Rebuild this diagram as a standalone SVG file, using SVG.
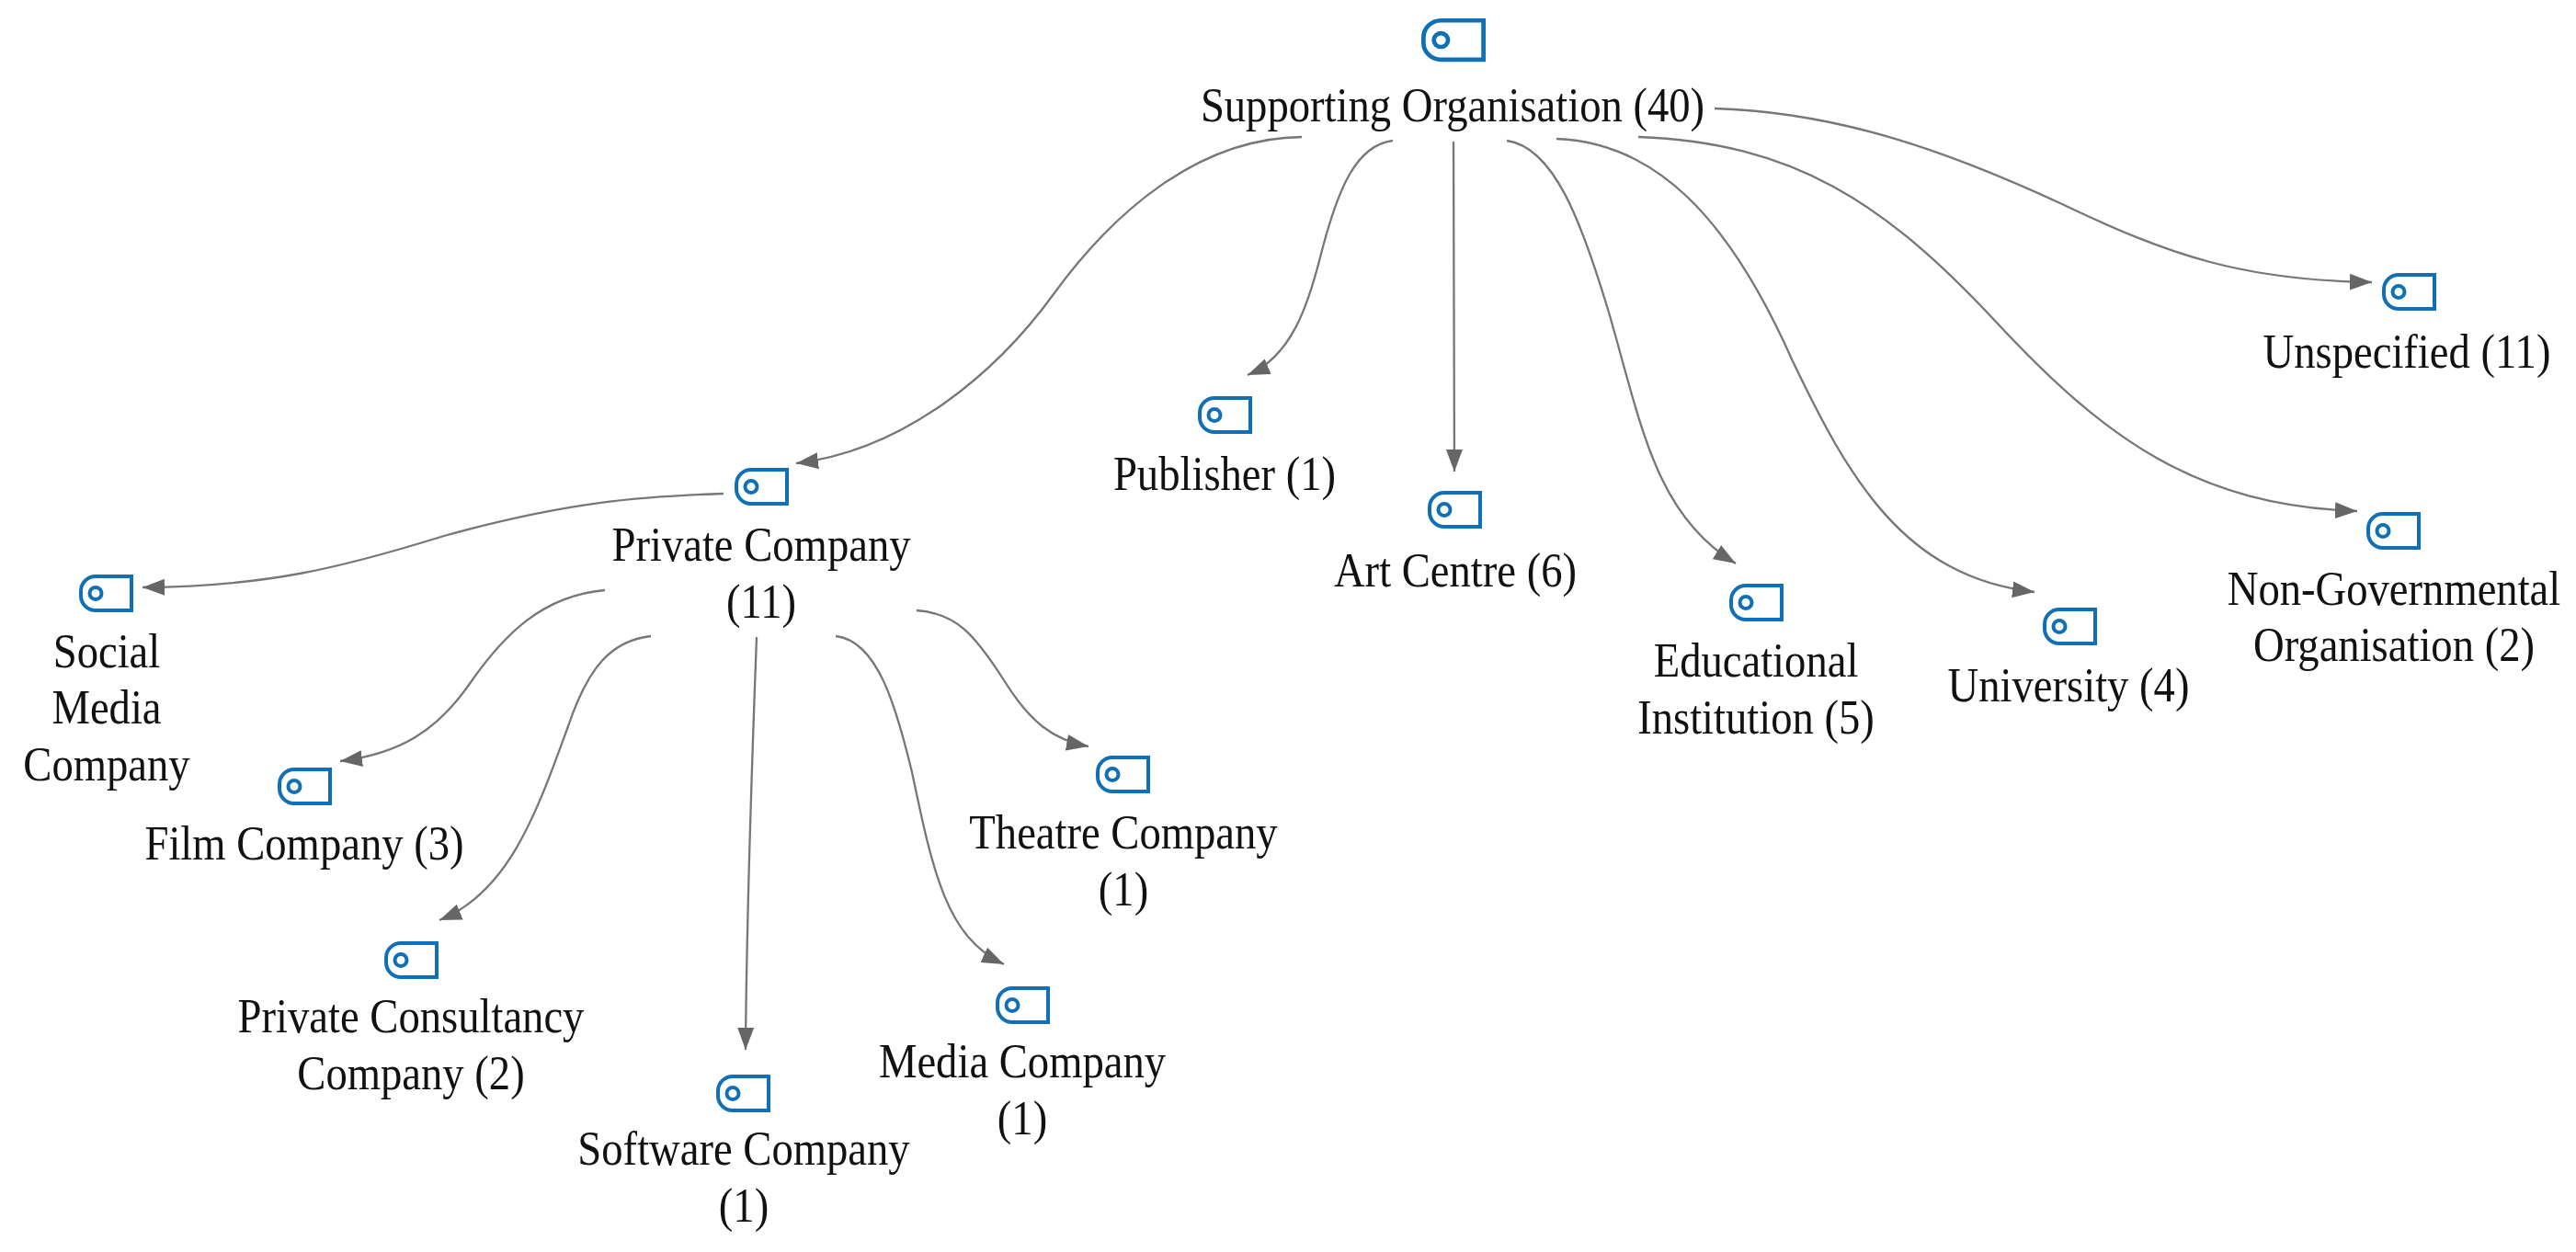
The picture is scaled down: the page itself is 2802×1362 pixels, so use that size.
<svg xmlns="http://www.w3.org/2000/svg" width="2802" height="1362" viewBox="0 0 2802 1362">
<style>
.t{font-family:"Liberation Serif","Times New Roman",serif;font-size:53px;fill:#111;text-anchor:middle}
.c{fill:none;stroke:#777;stroke-width:2.3;marker-end:url(#a)}
.i{fill:none;stroke:#0f70b7;stroke-width:4}
</style>
<defs>
<marker id="a" markerUnits="userSpaceOnUse" markerWidth="26" markerHeight="20" refX="24" refY="10" orient="auto"><path d="M0,1 L24,10 L0,19 Z" fill="#666"/></marker>
<g id="tag"><path class="i" d="M57,2 H18 A16,16 0 0 0 2,18 V23 A16,16 0 0 0 18,39 H57 Z"/><circle class="i" cx="18" cy="20.500" r="6.500"/></g>
</defs>
<rect width="2802" height="1362" fill="#fff"/>
<g id="connectors">
<path class="c" d="M1416,149 C1300,150 1207,236 1146,320 C1085,404 985,490 866,504"/>
<path class="c" d="M1515,153 C1475,158 1455,205 1436,280 C1423,331 1405,388 1357,408"/>
<path class="c" d="M1581,154 L1582,513"/>
<path class="c" d="M1639,153 C1690,160 1720,240 1750,340 C1785,460 1800,560 1888,613"/>
<path class="c" d="M1693,151 C1800,155 1880,235 1950,393 C2010,518 2070,628 2213,644"/>
<path class="c" d="M1782,149 C1950,155 2050,220 2171,350 C2290,478 2390,550 2564,556"/>
<path class="c" d="M1865,118 C2000,122 2120,165 2243,222 C2360,278 2440,305 2580,307"/>
<path class="c" d="M787,537 C700,540 620,545 483,583 C370,618 290,638 155,639"/>
<path class="c" d="M658,642 C590,648 548,690 510,745 C475,795 435,820 370,828"/>
<path class="c" d="M708,692 C665,697 640,725 618,790 C585,880 555,970 478,1001"/>
<path class="c" d="M823,693 C819,800 812,1000 811,1142"/>
<path class="c" d="M909,692 C955,697 975,770 992,840 C1015,950 1030,1020 1092,1049"/>
<path class="c" d="M997,664 C1040,667 1060,690 1092,740 C1120,785 1145,805 1184,812"/>
</g>
<g id="n-supporting"><use href="#tag" transform="translate(1546,20) scale(1.186,1.15)"/><text class="t" transform="translate(1580,132) scale(.88,1)">Supporting Organisation (40)</text></g>
<g id="n-private"><use href="#tag" transform="translate(799,509)"/><text class="t" transform="translate(828,610) scale(.88,1)">Private Company</text><text class="t" transform="translate(828,672) scale(.88,1)">(11)</text></g>
<g id="n-publisher"><use href="#tag" transform="translate(1303,431)"/><text class="t" transform="translate(1332,533) scale(.88,1)">Publisher (1)</text></g>
<g id="n-art"><use href="#tag" transform="translate(1553,534)"/><text class="t" transform="translate(1583,638) scale(.88,1)">Art Centre (6)</text></g>
<g id="n-edu"><use href="#tag" transform="translate(1881,635)"/><text class="t" transform="translate(1910,736) scale(.88,1)">Educational</text><text class="t" transform="translate(1910,798) scale(.88,1)">Institution (5)</text></g>
<g id="n-univ"><use href="#tag" transform="translate(2222,661)"/><text class="t" transform="translate(2250,763) scale(.88,1)">University (4)</text></g>
<g id="n-ngo"><use href="#tag" transform="translate(2574,557)"/><text class="t" transform="translate(2604,658) scale(.88,1)">Non-Governmental</text><text class="t" transform="translate(2604,719) scale(.88,1)">Organisation (2)</text></g>
<g id="n-unspecified"><use href="#tag" transform="translate(2591,297)"/><text class="t" transform="translate(2618,400) scale(.88,1)">Unspecified (11)</text></g>
<g id="n-social"><use href="#tag" transform="translate(86,625)"/><text class="t" transform="translate(116,726) scale(.88,1)">Social</text><text class="t" transform="translate(116,787) scale(.88,1)">Media</text><text class="t" transform="translate(116,849) scale(.88,1)">Company</text></g>
<g id="n-film"><use href="#tag" transform="translate(302,835)"/><text class="t" transform="translate(331,935) scale(.88,1)">Film Company (3)</text></g>
<g id="n-consultancy"><use href="#tag" transform="translate(418,1024)"/><text class="t" transform="translate(447,1123) scale(.88,1)">Private Consultancy</text><text class="t" transform="translate(447,1185) scale(.88,1)">Company (2)</text></g>
<g id="n-software"><use href="#tag" transform="translate(779,1169)"/><text class="t" transform="translate(809,1267) scale(.88,1)">Software Company</text><text class="t" transform="translate(809,1329) scale(.88,1)">(1)</text></g>
<g id="n-media"><use href="#tag" transform="translate(1083,1073)"/><text class="t" transform="translate(1112,1172) scale(.88,1)">Media Company</text><text class="t" transform="translate(1112,1234) scale(.88,1)">(1)</text></g>
<g id="n-theatre"><use href="#tag" transform="translate(1192,822)"/><text class="t" transform="translate(1222,923) scale(.88,1)">Theatre Company</text><text class="t" transform="translate(1222,985) scale(.88,1)">(1)</text></g>
</svg>
